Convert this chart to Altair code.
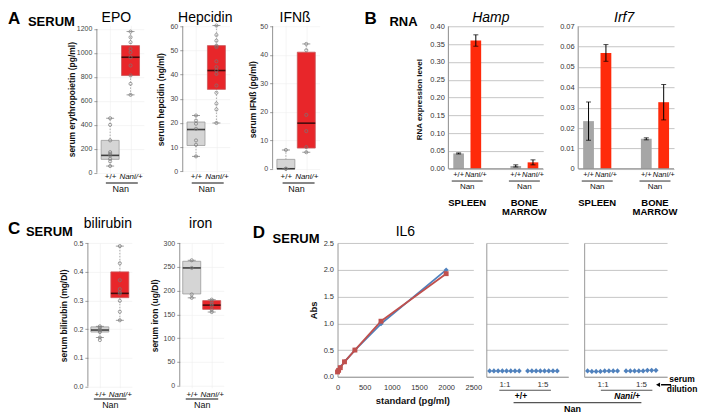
import altair as alt
import pandas as pd

FONT = "Liberation Sans"
GENO = ["+/+", "Nani/+"]
TISSUES = ["SPLEEN", "BONE MARROW"]
GROUP_LABEL = "Nan"
PANEL_LETTERS = ["A", "B", "C", "D"]
PANEL_SOURCES = ["SERUM", "RNA", "SERUM", "SERUM"]
DILUTIONS = ["1:1", "1:5"]

# ---------------- Panel A / C : individual values and box statistics ----------------
# box stats: [lower whisker, q1, median, q3, upper whisker]
epo_wt = [455, 400, 270, 172, 158, 145, 117, 95, 56]
epo_nani = [1178, 1131, 1089, 1033, 1006, 964, 895, 812, 742, 650]
epo_box_wt = [56, 112, 145, 270, 455]
epo_box_nani = [650, 811, 964, 1061, 1178]
epo_ticks = [0, 200, 400, 600, 800, 1000, 1200]

hep_wt = [23.1, 21.0, 19.7, 17.6, 12.8, 11.0, 6.2]
hep_nani = [60.3, 56.4, 54.0, 52.0, 51.4, 45.5, 43.1, 41.7, 40.3, 35.5, 32.5, 28.0, 25.6, 20.0]
hep_box_wt = [6.2, 10.7, 17.3, 20.4, 23.1]
hep_box_nani = [20.0, 33.9, 41.7, 52.0, 60.3]
hep_ticks = [0, 10, 20, 30, 40, 50, 60]

ifn_wt = [6.6, 0.0, 0.0]
ifn_nani = [43.8, 41.6, 18.9, 13.2, 7.6, 5.8]
ifn_box_wt = [0.0, 0.0, 0.0, 3.3, 6.6]
ifn_box_nani = [5.8, 7.25, 16.0, 40.9, 43.8]
ifn_ticks = [0, 10, 20, 30, 40, 50]

bili_wt = [0.21, 0.205, 0.198, 0.195, 0.19, 0.171, 0.162]
bili_nani = [0.49, 0.43, 0.371, 0.34, 0.33, 0.324, 0.299, 0.261, 0.231]
bili_box_wt = [0.171, 0.19, 0.197, 0.208, 0.21]
bili_box_nani = [0.231, 0.31, 0.325, 0.40, 0.49]
bili_ticks = [0.0, 0.1, 0.2, 0.3, 0.4, 0.5]

iron_wt = [263.8, 247.7, 192.0, 184.8]
iron_nani = [181, 177, 172, 168, 160, 155]
iron_box_wt = [184.8, 193.0, 247.7, 261.7, 263.8]
iron_box_nani = [155, 160.6, 169.5, 179, 181]
iron_ticks = [0, 50, 100, 150, 200, 250, 300]

# ---------------- Panel B : RNA expression (SPLEEN +/+, SPLEEN Nani/+, BM +/+, BM Nani/+) ----------------
hamp_mean = [0.043, 0.360, 0.008, 0.018]
hamp_err = [0.0015, 0.016, 0.003, 0.007]
hamp_ticks = [0.0, 0.05, 0.10, 0.15, 0.20, 0.25, 0.30, 0.35, 0.40]
irf7_mean = [0.0234, 0.0569, 0.0147, 0.0327]
irf7_err = [0.0094, 0.0041, 0.0005, 0.0087]
irf7_ticks = [0.0, 0.01, 0.02, 0.03, 0.04, 0.05, 0.06, 0.07]

# ---------------- Panel D : IL6 ELISA ----------------
il6_std = [0, 20, 51, 128, 320, 800, 2000]
il6_abs_a = [0.10, 0.13, 0.18, 0.28, 0.50, 0.99, 2.00]
il6_abs_b = [0.09, 0.12, 0.17, 0.28, 0.50, 1.04, 1.93]
il6_x_ticks = [0, 500, 1000, 1500, 2000, 2500]
abs_ticks = [0, 0.5, 1.0, 1.5, 2.0, 2.5]
sample_idx = [1, 2, 3, 4, 5, 6, 7, 8, 10, 11, 12, 13, 14, 15, 16, 17]
wt_serum_abs = [0.11, 0.11, 0.11, 0.11, 0.11, 0.11, 0.11, 0.11,
                0.11, 0.11, 0.11, 0.11, 0.11, 0.11, 0.11, 0.11]
nani_serum_abs = [0.11, 0.10, 0.10, 0.10, 0.11, 0.11, 0.11, 0.11,
                  0.11, 0.11, 0.11, 0.11, 0.11, 0.12, 0.12, 0.12]

ONE = pd.DataFrame({"k": [0]})
ITALIC = {"condition": {"test": "datum.value === 'Nani/+'", "value": "italic"}, "value": "normal"}


def txt(s, x, y, size=9, weight="bold", style="normal", align="center", baseline="middle", color="black"):
    return alt.Chart(pd.DataFrame({"t": [s]})).mark_text(
        fontSize=size, fontWeight=weight, fontStyle=style, align=align, baseline=baseline,
        color=color, font=FONT).encode(x=alt.value(x), y=alt.value(y), text="t:N")


def ptitle(s, x, y, italic=False):
    return txt(s, x, y, size=14, weight="normal", style="italic" if italic else "normal",
               baseline="alphabetic")


def hline(x0, x1, y, color="#111111", w=1.1):
    return alt.Chart(ONE).mark_rule(color=color, strokeWidth=w).encode(
        x=alt.value(x0), x2=alt.value(x1), y=alt.value(y))


def box_panel(ttl, ytitle, wt, nani, bwt, bnani, ydom, yticks, fmt, W, H, pad,
              lab_pad, line_y, line_x, nan_y, tdx, ty, tpad):
    pts = pd.DataFrame({"g": [GENO[0]] * len(wt) + [GENO[1]] * len(nani), "v": wt + nani})
    st = pd.DataFrame({"g": GENO,
                       "lo": [bwt[0], bnani[0]], "q1": [bwt[1], bnani[1]],
                       "med": [bwt[2], bnani[2]], "q3": [bwt[3], bnani[3]],
                       "hi": [bwt[4], bnani[4]]})
    xs = alt.Scale(type="point", domain=GENO, padding=pad)
    xa = alt.Axis(title=GROUP_LABEL, titleFontSize=9, titleFontWeight="normal", titleColor="#111",
                  titleY=nan_y, titleBaseline="middle", labelFontSize=8, labelColor="#111",
                  labelPadding=lab_pad, labelBaseline="middle", labelAngle=0, labelFontStyle=ITALIC,
                  ticks=False, tickSize=0, domain=False, grid=True, gridColor="#eeeeee", gridWidth=0.6)
    ys = alt.Scale(domain=ydom, nice=False, zero=False)
    ya = alt.Axis(title=ytitle, values=yticks, format=fmt, titleFontSize=8.5, titleFontWeight="bold",
                  titleColor="#111", labelFontSize=7, labelColor="#444", labelPadding=2,
                  labelFlush=False, labelOverlap=False,
                  tickColor="#777", tickSize=3, tickWidth=0.7, titlePadding=tpad,
                  domain=False, grid=True, gridColor="#eeeeee", gridWidth=0.6)
    X = alt.X("g:N", scale=xs, axis=xa)

    def Y(f):
        return alt.Y(f + ":Q", scale=ys, axis=ya)

    whisk = alt.Chart(st).mark_rule(color="#999999", strokeWidth=0.8, strokeDash=[1.5, 1.5]).encode(
        x=X, y=Y("lo"), y2="hi:Q")
    box = alt.Chart(st).mark_bar(size=18, strokeWidth=0.8, opacity=1).encode(
        x=X, y=Y("q1"), y2="q3:Q",
        color=alt.Color("g:N", scale=alt.Scale(domain=GENO, range=["#d5d5d5", "#e8262a"]), legend=None),
        stroke=alt.Stroke("g:N", scale=alt.Scale(domain=GENO, range=["#9a9a9a", "#c8585a"]), legend=None))
    med = alt.Chart(st).mark_tick(color="black", size=18, thickness=1.6).encode(x=X, y=Y("med"))
    cap_lo = alt.Chart(st).mark_tick(color="#666666", size=8, thickness=0.9).encode(x=X, y=Y("lo"))
    cap_hi = alt.Chart(st).mark_tick(color="#666666", size=8, thickness=0.9).encode(x=X, y=Y("hi"))
    dots = alt.Chart(pts).mark_point(shape="circle", size=10, filled=False, color="#777777",
                                     strokeWidth=0.7, opacity=1).encode(x=X, y=Y("v"))
    yline = alt.Chart(ONE).mark_rule(color="#777777", strokeWidth=0.8).encode(
        x=alt.value(0),
        y=alt.Y(datum=yticks[0], type="quantitative", scale=ys, axis=ya),
        y2=alt.Y2(datum=yticks[-1]))
    uline = hline(line_x[0], line_x[1], H + line_y)
    title = ptitle(ttl, W / 2 + tdx, ty)
    return alt.layer(whisk, box, med, cap_lo, cap_hi, dots, yline, uline, title).properties(
        width=W, height=H)


def bar_panel(ttl, ytitle, means, errs, ydom, yticks, label_expr, W, H, tdx, ty):
    df = pd.DataFrame({"tissue": [TISSUES[0], TISSUES[0], TISSUES[1], TISSUES[1]],
                       "g": GENO + GENO, "m": means, "e": errs})
    df["lo"] = df["m"] - df["e"]
    df["hi"] = df["m"] + df["e"]
    tdf = pd.DataFrame({"tissue": TISSUES, "lab": [GROUP_LABEL, GROUP_LABEL]})
    xs = alt.Scale(domain=TISSUES, paddingInner=0.44, paddingOuter=0.05)
    xo = alt.Scale(domain=GENO, paddingInner=0.38, paddingOuter=0.12)
    X = alt.X("tissue:N", scale=xs, axis=None)
    XO = alt.XOffset("g:N", scale=xo)
    ys = alt.Scale(domain=ydom, nice=False, zero=False)
    ya = alt.Axis(title=ytitle, values=yticks, labelExpr=label_expr, titleFontSize=8, titleFontWeight="bold",
                  titleColor="#111", labelFontSize=7.5, labelColor="#333", labelPadding=4,
                  labelFlush=False, labelOverlap=False, ticks=False, domain=False,
                  grid=True, gridColor="#b8b8b8", gridWidth=0.8, titlePadding=6)

    def Y(f):
        return alt.Y(f + ":Q", scale=ys, axis=ya)

    bars = alt.Chart(df).mark_bar().encode(
        x=X, xOffset=XO, y=Y("m"),
        color=alt.Color("g:N", scale=alt.Scale(domain=GENO, range=["#a6a6a6", "#ff2a0a"]), legend=None))
    err = alt.Chart(df).mark_rule(color="black", strokeWidth=1).encode(x=X, xOffset=XO, y=Y("lo"), y2="hi:Q")
    cap_lo = alt.Chart(df).mark_tick(color="black", size=5, thickness=1).encode(x=X, xOffset=XO, y=Y("lo"))
    cap_hi = alt.Chart(df).mark_tick(color="black", size=5, thickness=1).encode(x=X, xOffset=XO, y=Y("hi"))
    vline = alt.Chart(ONE).mark_rule(color="#8c8c8c", strokeWidth=1).encode(
        x=alt.value(0), y=alt.Y(datum=yticks[0], type="quantitative", scale=ys, axis=ya),
        y2=alt.Y2(datum=yticks[-1]))
    base_line = alt.Chart(ONE).mark_rule(color="#8c8c8c", strokeWidth=1).encode(
        x=alt.value(0), x2=alt.value(W), y=alt.Y(datum=0, type="quantitative", scale=ys, axis=ya))
    gtxt = alt.Chart(df).encode(x=X, xOffset=XO, y=alt.value(H + 2.3), text="g:N")
    g_wt = gtxt.transform_filter(alt.datum.g == GENO[0]).mark_text(
        fontSize=7.5, color="#111", baseline="middle", font=FONT)
    g_mut = gtxt.transform_filter(alt.datum.g == GENO[1]).mark_text(
        fontSize=7.5, color="#111", baseline="middle", fontStyle="italic", font=FONT)
    under = alt.Chart(tdf).mark_tick(orient="horizontal", size=31, thickness=1.6, color="#444444").encode(
        x=X, y=alt.value(H + 8))
    nan = alt.Chart(tdf).mark_text(fontSize=8, color="#111", baseline="middle", font=FONT).encode(
        x=X, y=alt.value(H + 13.5), text="lab:N")
    tis = alt.Chart(tdf).mark_text(fontSize=9.5, fontWeight="bold", color="black", baseline="middle",
                                   lineBreak=" ", lineHeight=9.5, font=FONT).encode(
        x=X, y=alt.value(H + 30), text="tissue:N")
    title = ptitle(ttl, W / 2 + tdx, ty, italic=True)
    return alt.layer(bars, err, cap_lo, cap_hi, base_line, vline, g_wt, g_mut, under, nan, tis,
                     title).properties(width=W, height=H)


def il6_panel(W, H):
    df = pd.DataFrame({"c": il6_std + il6_std, "a": il6_abs_a + il6_abs_b,
                       "s": ["a"] * len(il6_std) + ["b"] * len(il6_std)})
    xs = alt.Scale(domain=[0, 2500], nice=False, zero=False)
    xa = alt.Axis(values=il6_x_ticks, format="d", title="standard (pg/ml)", titleFontSize=9.5,
                  titleFontWeight="bold", titleColor="#111", titleX=75, titleY=24, titleBaseline="middle",
                  labelFontSize=7.5, labelColor="#333", labelPadding=10.5, labelBaseline="middle",
                  labelFlush=False, labelOverlap=False, ticks=False, tickSize=0,
                  domain=True, domainColor="#999999", grid=False)
    ys = alt.Scale(domain=[0, 2.505], nice=False, zero=False)
    ya = alt.Axis(values=abs_ticks, title="Abs", titleFontSize=9.5, titleFontWeight="bold", titleColor="#111",
                  labelFontSize=7.5, labelColor="#333", labelPadding=4, labelFlush=False, labelOverlap=False,
                  ticks=False, domain=True, domainColor="#999999", grid=True, gridColor="#b8b8b8",
                  gridWidth=0.8, titlePadding=5)
    col = alt.Color("s:N", scale=alt.Scale(domain=["a", "b"], range=["#4f81bd", "#c0504d"]), legend=None)
    line = alt.Chart(df).mark_line(strokeWidth=1.8).encode(
        x=alt.X("c:Q", scale=xs, axis=xa), y=alt.Y("a:Q", scale=ys, axis=ya), color=col)
    pts = alt.Chart(df).mark_point(filled=True, size=24, opacity=1).encode(
        x=alt.X("c:Q", scale=xs, axis=xa), y=alt.Y("a:Q", scale=ys, axis=ya), color=col,
        shape=alt.Shape("s:N", scale=alt.Scale(domain=["a", "b"], range=["diamond", "square"]), legend=None))
    title = ptitle("IL6", W / 2, -7)
    return alt.layer(line, pts, title).properties(width=W, height=H)


def serum_panel(vals, W, H, extra):
    df = pd.DataFrame({"i": sample_idx, "a": vals})
    xs = alt.Scale(domain=[0.2, 19.6], nice=False, zero=False)
    xa = alt.Axis(values=[4.5, 13.5],
                  labelExpr=f"datum.value < 9 ? '{DILUTIONS[0]}' : '{DILUTIONS[1]}'",
                  title=None, labelFontSize=8, labelColor="#333", labelPadding=7.3, labelBaseline="middle",
                  ticks=False, tickSize=0, domain=True, domainColor="#999999", grid=False,
                  labelFlush=False, labelOverlap=False)
    ys = alt.Scale(domain=[0, 2.505], nice=False, zero=False)
    ya = alt.Axis(values=abs_ticks, labels=False, ticks=False, title=None, domain=True,
                  domainColor="#999999", grid=True, gridColor="#b8b8b8", gridWidth=0.8)
    pts = alt.Chart(df).mark_point(shape="diamond", filled=True, size=26, color="#4f81bd", opacity=1).encode(
        x=alt.X("i:Q", scale=xs, axis=xa), y=alt.Y("a:Q", scale=ys, axis=ya))
    return alt.layer(pts, *extra).properties(width=W, height=H)


def label_view(i, W, H, lpos, wpos):
    a = txt(PANEL_LETTERS[i], lpos[0], lpos[1], size=17, align="left", baseline="alphabetic")
    b = txt(PANEL_SOURCES[i], wpos[0], wpos[1], size=13, align="left", baseline="alphabetic")
    return alt.layer(a, b).properties(width=W, height=H)


def blank(W, H):
    return alt.Chart(ONE).mark_point(opacity=0, size=1).encode(
        x=alt.value(1), y=alt.value(1)).properties(width=W, height=H)


H1 = 148
H2 = 145
H3 = 134
TY1 = -3.5

epo = box_panel("EPO", "serum erythropoietin (pg/ml)", epo_wt, epo_nani, epo_box_wt, epo_box_nani,
                [-2.5, 1230.8], epo_ticks, "d", 47, H1, 0.65, 3.3, 10, (9, 41), 15.7, -4, TY1, 0)
hep = box_panel("Hepcidin", "serum hepcidin (ng/ml)", hep_wt, hep_nani, hep_box_wt, hep_box_nani,
                [-0.7, 60.41], hep_ticks, "d", 47, H1, 0.65, 3.3, 10, (9, 41), 15.7, -1, TY1, 4)
ifn = box_panel("IFNß", "serum IFNß (pg/ml)", ifn_wt, ifn_nani, ifn_box_wt, ifn_box_nani,
                [-1.51, 50.35], ifn_ticks, "d", 47, H1, 0.65, 3.3, 10, (10, 42), 15.7, -1, TY1, 2)
hamp = bar_panel("Hamp", "RNA expression level", hamp_mean, hamp_err, [-0.01205, 0.4028], hamp_ticks,
                 "format(datum.value, '.2f')", 95, H1, -5, TY1)
irf7 = bar_panel("Irf7", None, irf7_mean, irf7_err, [-0.00211, 0.07049], irf7_ticks,
                 "datum.value == 0 ? '0' : format(datum.value, '.2f')", 96, H1, -2, TY1)

bili = box_panel("bilirubin", "serum bilirubin (mg/Dl)", bili_wt, bili_nani, bili_box_wt, bili_box_nani,
                 [-0.0045, 0.501], bili_ticks, ".1f", 44, H2, 0.6, 6.3, 11.3, (6, 38.5), 17, -2, -15, 5)
iron = box_panel("iron", "serum iron (ug/Dl)", iron_wt, iron_nani, iron_box_wt, iron_box_nani,
                 [-4.2, 300.2], iron_ticks, "d", 44, H2, 0.6, 6.3, 11.3, (6, 38.5), 17, -1, -15, 4)
il6 = il6_panel(136, H3)

p2_extra = [
    hline(13, 64.7, H3 + 13.5, color="#555555", w=1.2),
    txt(GENO[0], 34.7, H3 + 19.5, size=8.5),
    hline(27.3, 155.3, H3 + 26, color="#555555", w=1.2),
    txt(GROUP_LABEL, 86.3, H3 + 32, size=9),
]
p3_extra = [
    hline(16.7, 68.3, H3 + 13.5, color="#555555", w=1.2),
    txt(GENO[1], 43, H3 + 19.5, size=8.5, style="italic"),
    hline(77, 87, H3 + 8, color="black", w=1.5),
    alt.Chart(ONE).mark_point(shape="triangle-left", filled=True, size=22, color="black", opacity=1).encode(
        x=alt.value(74), y=alt.value(H3 + 8)),
    txt("serum", 98, H3 + 2.5, size=8.5),
    txt("dilution", 98, H3 + 12.5, size=8.5),
]
p2 = serum_panel(wt_serum_abs, 82, H3, p2_extra)
p3 = serum_panel(nani_serum_abs, 83, H3, p3_extra)

row1 = alt.hconcat(
    label_view(0, 89, H1, (0, -1), (20, 0.5)),
    epo, blank(39, H1), hep, blank(43, H1), ifn,
    label_view(1, 129, H1, (45, -1), (70, 1)),
    hamp, blank(35, H1), irf7,
    spacing=0, bounds="flush",
).resolve_scale(color="independent", stroke="independent", shape="independent",
                x="independent", y="independent", xOffset="independent")

row2 = alt.hconcat(
    label_view(2, 80, H2, (0, -9), (18, -7)),
    bili, blank(48, H2), iron,
    label_view(3, 114, H2, (29, -5), (49, -0.3)),
    il6, blank(13, H3), p2, blank(16, H3), p3,
    spacing=0, bounds="flush",
).resolve_scale(color="independent", stroke="independent", shape="independent",
                x="independent", y="independent", xOffset="independent")

chart = alt.vconcat(row1, row2, spacing=0)
chart = chart.resolve_scale(color="independent", stroke="independent", shape="independent",
                            x="independent", y="independent", xOffset="independent")
chart = chart.properties(padding={"left": 0, "top": 2, "right": 2, "bottom": 0})
chart = chart.configure(font=FONT).configure_view(strokeWidth=0)

chart.save("out.html", embed_options={"renderer": "svg", "actions": False})
